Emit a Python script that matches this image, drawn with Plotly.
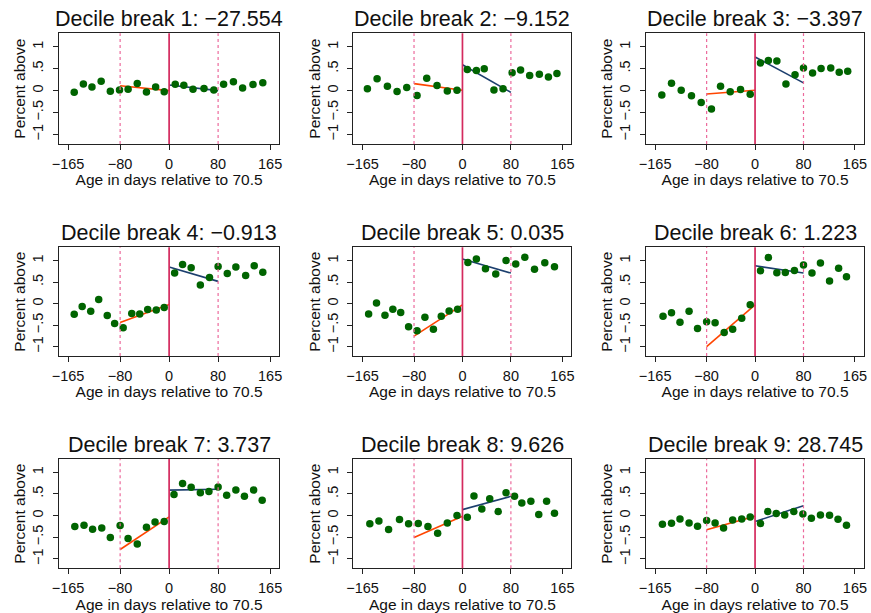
import plotly.graph_objects as go

W, H = 871, 613

titles = ["Decile break 1: \u221227.554", "Decile break 2: \u22129.152", "Decile break 3: \u22123.397",
          "Decile break 4: \u22120.913", "Decile break 5: 0.035", "Decile break 6: 1.223",
          "Decile break 7: 3.737", "Decile break 8: 9.626", "Decile break 9: 28.745"]

left_x = [
    [-155, -140, -126, -111, -96, -81, -67, -52, -37, -22, -8],
    [-157, -141, -124, -108, -92, -75, -59, -42, -25, -9],
    [-154, -138, -122, -105, -89, -72, -57, -41, -24, -8],
    [-155, -142, -128, -115, -101, -89, -75, -61, -48, -35, -21, -8],
    [-155, -142, -128, -115, -102, -89, -75, -62, -48, -35, -22, -8],
    [-152, -138, -124, -109, -95, -80, -66, -51, -37, -22, -8],
    [-154, -139, -125, -110, -96, -80, -67, -52, -37, -23, -8],
    [-153, -138, -122, -104, -89, -73, -57, -41, -25, -9],
    [-153, -138, -124, -109, -95, -80, -66, -52, -37, -22, -8],
]
left_y = [
    [-0.04, 0.15, 0.085, 0.215, -0.015, 0.015, 0.03, 0.16, -0.03, 0.085, -0.025],
    [0.04, 0.27, 0.10, -0.02, 0.07, -0.11, 0.285, 0.115, -0.01, 0.01],
    [-0.10, 0.17, 0.008, -0.115, -0.27, -0.42, 0.10, -0.023, 0.023, -0.085],
    [-0.247, -0.07, -0.178, 0.093, -0.278, -0.463, -0.564, -0.232, -0.24, -0.139, -0.147, -0.093],
    [-0.24, 0.015, -0.27, -0.13, -0.21, -0.54, -0.633, -0.317, -0.60, -0.293, -0.17, -0.13],
    [-0.293, -0.216, -0.432, -0.178, -0.58, -0.425, -0.448, -0.672, -0.595, -0.34, -0.03],
    [-0.254, -0.223, -0.315, -0.285, -0.508, -0.23, -0.53, -0.66, -0.27, -0.146, -0.138],
    [-0.19, -0.123, -0.323, -0.092, -0.19, -0.185, -0.254, -0.408, -0.17, 0.0],
    [-0.20, -0.177, -0.077, -0.17, -0.246, -0.115, -0.17, -0.29, -0.10, -0.077, -0.03],
]
right_x = [
    [10, 24, 39, 57, 73, 89, 105, 120, 137, 153],
    [8, 23, 36, 52, 67, 82, 96, 111, 127, 142, 156],
    [9, 22, 36, 51, 66, 80, 95, 109, 125, 139, 153],
    [9, 22, 36, 51, 66, 80, 95, 109, 125, 139, 153],
    [9, 23, 38, 55, 72, 88, 103, 119, 136, 152],
    [9, 22, 36, 50, 65, 80, 94, 108, 123, 138, 151],
    [8, 22, 36, 51, 65, 80, 94, 109, 123, 138, 152],
    [8, 19, 32, 45, 59, 72, 86, 98, 113, 126, 139, 152],
    [9, 21, 35, 49, 64, 79, 93, 108, 123, 137, 151],
]
right_y = [
    [0.146, 0.12, 0.03, 0.046, 0.015, 0.146, 0.20, 0.06, 0.14, 0.177],
    [0.485, 0.46, 0.50, 0.015, 0.04, 0.41, 0.47, 0.345, 0.375, 0.31, 0.39],
    [0.63, 0.69, 0.677, 0.154, 0.36, 0.515, 0.40, 0.508, 0.515, 0.42, 0.44],
    [0.71, 0.907, 0.834, 0.432, 0.61, 0.865, 0.70, 0.85, 0.656, 0.88, 0.73],
    [0.958, 1.04, 0.81, 0.687, 1.004, 0.92, 1.08, 0.80, 0.95, 0.857],
    [0.764, 1.073, 0.718, 0.726, 0.772, 0.90, 0.71, 0.946, 0.525, 0.82, 0.625],
    [0.49, 0.74, 0.654, 0.53, 0.56, 0.66, 0.47, 0.59, 0.446, 0.59, 0.354],
    [-0.04, 0.454, 0.154, 0.39, 0.092, 0.53, 0.446, 0.292, 0.33, 0.023, 0.33, 0.054],
    [-0.185, 0.092, 0.046, 0.015, 0.092, 0.038, -0.06, 0.015, 0.008, -0.085, -0.223],
]
# linear fit values at (-80, 0) on the left and (0, 80) on the right
fit_left = [(0.11, 0.0), (0.16, 0.01), (-0.077, 0.008), (-0.44, -0.023), (-0.757, -0.03),
            (-1.004, -0.03), (-0.785, -0.03), (-0.508, -0.015), (-0.33, -0.015)]
fit_right = [(0.13, 0.0), (0.59, -0.04), (0.77, 0.177), (0.85, 0.517), (1.04, 0.71),
             (0.88, 0.71), (0.59, 0.61), (0.138, 0.446), (-0.138, 0.23)]

BANDWIDTH = 80
CUTOFF = 0
x_ticks = [-165, -80, 0, 80, 165]
x_ticklabels = ["\u2212165", "\u221280", "0", "80", "165"]
y_ticks = [-1, -0.5, 0, 0.5, 1]
y_ticklabels = ["\u22121", "\u2212.5", "0", ".5", "1"]

col_px = [(52.5, 275.5), (350.5, 571), (646.5, 867)]
row_px = [(33.3, 144), (247.3, 356), (459, 568.3)]

FONT = "Liberation Sans, Arial, Helvetica, sans-serif"
GREEN = "#006400"
ORANGE = "#ff4500"
NAVY = "#1c3f6e"
RED = "#d42a5e"
PINK = "#ec6a9c"

fig = go.Figure()
layout = dict(width=W, height=H, margin=dict(l=0, r=0, t=0, b=0), autosize=False,
              paper_bgcolor="white", plot_bgcolor="white", showlegend=False,
              font=dict(family=FONT, color="#111"))
annotations = []
shapes = []

for i in range(9):
    r, c = divmod(i, 3)
    n = "" if i == 0 else str(i + 1)
    xa, ya = "x" + n, "y" + n
    x0, x1 = col_px[c][0] / W, col_px[c][1] / W
    y0, y1 = 1 - row_px[r][1] / H, 1 - row_px[r][0] / H
    layout["xaxis" + n] = dict(domain=[x0, x1], anchor=ya, range=[-180, 180],
                               tickvals=x_ticks, ticktext=x_ticklabels,
                               ticks="outside", ticklen=5, tickwidth=1, tickcolor="#222",
                               ticklabelstandoff=1,
                               showline=True, linecolor="#222", linewidth=1.2, mirror=True,
                               showgrid=False, zeroline=False,
                               tickfont=dict(size=14.5, family=FONT, color="#111"),
                               title=dict(text="Age in days relative to 70.5", standoff=0,
                                          font=dict(size=15.5, family=FONT, color="#111")))
    layout["yaxis" + n] = dict(domain=[y0, y1], anchor=xa, range=[-1.22, 1.31],
                               tickvals=y_ticks, ticktext=y_ticklabels, tickangle=-90,
                               ticks="outside", ticklen=5, tickwidth=1, tickcolor="#222",
                               ticklabelstandoff=4,
                               showline=True, linecolor="#222", linewidth=1.2, mirror=True,
                               showgrid=False, zeroline=False,
                               tickfont=dict(size=14.5, family=FONT, color="#111"),
                               title=dict(text="Percent above", standoff=0,
                                          font=dict(size=15.5, family=FONT, color="#111")))
    annotations.append(dict(text=titles[i], xref="paper", yref="paper",
                            x=(x0 + x1) / 2, y=y1, xanchor="center", yanchor="bottom",
                            yshift=0, showarrow=False,
                            font=dict(size=21.5, family=FONT, color="#111")))
    for xv, dash, col, wd in [(-BANDWIDTH, "dot", PINK, 1.2), (BANDWIDTH, "dot", PINK, 1.2),
                              (CUTOFF, "solid", RED, 1.7)]:
        shapes.append(dict(type="line", xref=xa, yref=ya + " domain", x0=xv, x1=xv, y0=0, y1=1,
                           line=dict(color=col, width=wd, dash=dash), layer="above"))
    fig.add_trace(go.Scatter(x=[-BANDWIDTH, CUTOFF], y=list(fit_left[i]), mode="lines",
                             line=dict(color=ORANGE, width=1.6), xaxis=xa, yaxis=ya))
    fig.add_trace(go.Scatter(x=[CUTOFF, BANDWIDTH], y=list(fit_right[i]), mode="lines",
                             line=dict(color=NAVY, width=1.6), xaxis=xa, yaxis=ya))
    fig.add_trace(go.Scatter(x=left_x[i] + right_x[i], y=left_y[i] + right_y[i], mode="markers",
                             marker=dict(color=GREEN, size=7.5, line=dict(width=0)),
                             xaxis=xa, yaxis=ya))

layout["annotations"] = annotations
layout["shapes"] = shapes
fig.update_layout(**layout)
fig.write_html("out.html")
